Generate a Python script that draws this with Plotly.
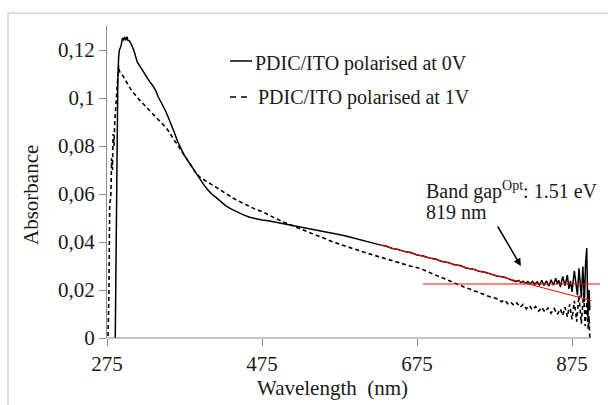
import plotly.graph_objects as go

# Absorbance spectrum of PDIC/ITO polarised at 0 V
wl_0v = [285.5, 287, 288, 289, 290, 291, 293, 294, 295, 296, 297, 298, 299, 300, 301, 302,
         304, 307, 310, 314, 318, 321, 326, 330, 334, 338, 341, 346, 350, 354, 358, 362,
         366, 370, 374, 378, 382, 386, 390, 395, 400, 405, 410, 416, 422, 428, 435, 443,
         451, 459, 467, 475, 483, 491, 499, 507, 515, 523, 531, 539, 547, 555, 563, 571,
         579, 587, 595, 603, 611, 619, 627, 635, 643, 651, 659, 667, 675, 683, 691, 699,
         707, 715, 723, 731, 739, 747, 755, 763, 771, 779, 787, 795,
         800, 803, 806, 809, 812, 815, 818, 821, 824, 827, 830, 833, 836, 839, 842, 845,
         848, 851, 854, 856, 858, 860, 863, 866, 869, 871, 873, 875, 878, 880, 882, 884,
         887, 889, 891, 892.5, 894, 895.5, 897, 898]
abs_0v = [-0.005, 0.040, 0.090, 0.108, 0.1170, 0.1200, 0.1215, 0.1235, 0.1250, 0.1240,
          0.1245, 0.1255, 0.1240, 0.1250, 0.1255, 0.1240,
          0.1238, 0.1220, 0.1195, 0.1150, 0.1130, 0.1110, 0.1088, 0.1068, 0.1052, 0.1030,
          0.1005, 0.0975, 0.0950, 0.0920, 0.0890, 0.0855,
          0.0820, 0.0790, 0.0765, 0.0745, 0.0725, 0.0705, 0.0685, 0.0660, 0.0638, 0.0618,
          0.0600, 0.0585, 0.0568, 0.0552, 0.0538, 0.0525,
          0.0513, 0.0503, 0.0497, 0.0492, 0.0489, 0.0484, 0.0478, 0.0474, 0.0470, 0.0463,
          0.0459, 0.0455, 0.0450, 0.0446, 0.0440, 0.0435,
          0.0428, 0.0422, 0.0415, 0.0408, 0.0400, 0.0394, 0.0388, 0.0383, 0.0373, 0.0369,
          0.0360, 0.0356, 0.0346, 0.0342, 0.0333, 0.0329,
          0.0319, 0.0315, 0.0305, 0.0302, 0.0291, 0.0288, 0.0278, 0.0274, 0.0267, 0.0257,
          0.0254, 0.0244,
          0.0241, 0.0235, 0.0240, 0.0231, 0.0237, 0.0228, 0.0235, 0.0225, 0.0236, 0.0223,
          0.0234, 0.0220, 0.0240, 0.0219, 0.0238, 0.0216,
          0.0243, 0.0220, 0.0249, 0.0226, 0.0240, 0.0212, 0.0256, 0.0218, 0.0262, 0.0205,
          0.0238, 0.0192, 0.0280, 0.0224, 0.0178, 0.0290,
          0.0170, 0.0298, 0.0150, 0.0310, 0.0375, 0.0085, 0.0200, 0.0115]

# Absorbance spectrum of PDIC/ITO polarised at 1 V
wl_1v = [276, 277.5, 278.5, 280, 281, 282, 283, 284, 285, 286.5, 288, 289, 290, 291, 293,
         295, 300, 305, 309, 313, 318, 322, 327, 331, 335, 339, 344, 348, 352, 356, 360,
         365, 369, 374, 378, 382, 386, 390, 395, 400, 406, 412, 418, 425, 431, 438, 445,
         452, 459, 466, 474, 481, 488, 495, 502, 510, 517, 524, 532, 539, 546, 553, 560,
         567, 574, 581, 588, 596, 603, 610, 617, 624, 631, 638, 645, 653, 660, 666, 673,
         679, 686, 692, 699, 705, 712, 718, 724, 731, 737, 744, 750, 756, 763, 769, 775,
         780, 784, 788, 792, 796, 800, 804, 808, 812, 816, 820, 824, 828, 832, 836, 840,
         844, 848, 852, 856, 860, 863, 866, 869, 872, 875, 878, 881, 884, 887, 890, 892,
         894, 896, 897, 898]
abs_1v = [-0.005, 0.020, 0.055, 0.060, 0.075, 0.070, 0.085, 0.080, 0.090, 0.098, 0.106,
          0.1130, 0.1135, 0.1110, 0.1105,
          0.1095, 0.1065, 0.1040, 0.1022, 0.1005, 0.0988, 0.0975, 0.0958, 0.0945, 0.0928,
          0.0915, 0.0898, 0.0888, 0.0873, 0.0855, 0.0832,
          0.0810, 0.0790, 0.0765, 0.0745, 0.0722, 0.0702, 0.0686, 0.0670, 0.0660, 0.0650,
          0.0638, 0.0625, 0.0610, 0.0597, 0.0582, 0.0570,
          0.0558, 0.0546, 0.0537, 0.0528, 0.0518, 0.0507, 0.0495, 0.0484, 0.0474, 0.0466,
          0.0457, 0.0447, 0.0438, 0.0429, 0.0419, 0.0409,
          0.0400, 0.0392, 0.0383, 0.0375, 0.0368, 0.0361, 0.0354, 0.0347, 0.0340, 0.0333,
          0.0327, 0.0320, 0.0313, 0.0307, 0.0300, 0.0295,
          0.0290, 0.0280, 0.0271, 0.0262, 0.0254, 0.0245, 0.0236, 0.0228, 0.0220, 0.0210,
          0.0203, 0.0195, 0.0187, 0.0180, 0.0172, 0.0167,
          0.0162, 0.0151, 0.0158, 0.0143, 0.0150, 0.0136, 0.0146, 0.0128, 0.0140, 0.0122,
          0.0135, 0.0117, 0.0131, 0.0112, 0.0128, 0.0108,
          0.0125, 0.0103, 0.0123, 0.0098, 0.0121, 0.0094, 0.0128, 0.0088, 0.0140, 0.0078,
          0.0155, 0.0068, 0.0178, 0.0060, 0.0190, 0.0050,
          0.0150, 0.0035, 0.0090, 0.0000]

# Optical band-gap construction: tangent to the absorption edge and baseline
tangent_wl = [627, 900]
tangent_abs = [0.0388, 0.0156]
baseline_wl = [683, 911]
baseline_abs = [0.0225, 0.0225]

series_names = ["PDIC/ITO polarised at 0V", "PDIC/ITO polarised at 1V"]
x_ticks = [275, 475, 675, 875]
y_ticks = [0, 0.02, 0.04, 0.06, 0.08, 0.10, 0.12]
y_tick_text = ["0", "0,02", "0,04", "0,06", "0,08", "0,1", "0,12"]

W, H = 608, 405
ML, MR, MT, MB = 107, 7, 26, 67
PW, PH = W - ML - MR, H - MT - MB
FONT = "Liberation Serif"
AXIS_GREY = "#8c8c8c"
TEXT = "#1a1a1a"


def fx(px):
    return (px - ML) / PW


def fy(py):
    return (H - MB - py) / PH


fig = go.Figure()
fig.add_trace(go.Scatter(x=wl_0v, y=abs_0v, mode="lines", name=series_names[0],
                         line=dict(color="black", width=1.5)))
fig.add_trace(go.Scatter(x=wl_1v, y=abs_1v, mode="lines", name=series_names[1],
                         line=dict(color="black", width=1.6, dash="4px,3px")))
fig.add_trace(go.Scatter(x=tangent_wl, y=tangent_abs, mode="lines", showlegend=False,
                         line=dict(color="#ff0000", width=1)))
fig.add_trace(go.Scatter(x=baseline_wl, y=baseline_abs, mode="lines", showlegend=False,
                         line=dict(color="#ff0000", width=1)))

shapes = [
    # chart frame
    dict(type="rect", xref="paper", yref="paper", x0=fx(8), x1=fx(660), y0=fy(460), y1=fy(13),
         line=dict(color="#c0c0c0", width=1), layer="below"),
    # horizontal axis line
    dict(type="line", xref="paper", yref="paper", x0=fx(107), x1=fx(591), y0=0, y1=0,
         line=dict(color=AXIS_GREY, width=1)),
    # legend samples
    dict(type="line", xref="paper", yref="paper", x0=fx(230), x1=fx(252), y0=fy(61), y1=fy(61),
         line=dict(color="black", width=1.5)),
    dict(type="line", xref="paper", yref="paper", x0=fx(230), x1=fx(250), y0=fy(97), y1=fy(97),
         line=dict(color="black", width=1.5, dash="6px,5px")),
]

tfont = dict(family=FONT, size=20, color=TEXT)
afont = dict(family=FONT, size=21, color=TEXT)
annotations = [
    dict(text="Absorbance", textangle=-90, xref="paper", yref="paper", x=fx(31), y=fy(195),
         xanchor="center", yanchor="middle", showarrow=False, font=afont),
    dict(text="Wavelength\u00a0 (nm)", xref="paper", yref="paper", x=fx(332), y=fy(388),
         xanchor="center", yanchor="middle", showarrow=False, font=afont),
    dict(text=series_names[0], xref="paper", yref="paper", x=fx(253), y=fy(63),
         xanchor="left", yanchor="middle", showarrow=False, font=tfont),
    dict(text=series_names[1], xref="paper", yref="paper", x=fx(256), y=fy(98),
         xanchor="left", yanchor="middle", showarrow=False, font=tfont),
    dict(text="Band gap<sup>Opt</sup>: 1.51 eV", xref="paper", yref="paper", x=fx(424), y=fy(190),
         xanchor="left", yanchor="middle", showarrow=False, font=tfont),
    dict(text="819 nm", xref="paper", yref="paper", x=fx(424), y=fy(212),
         xanchor="left", yanchor="middle", showarrow=False, font=tfont),
    dict(text="", x=809, y=0.030, xref="x", yref="y", ax=-24, ay=-41, showarrow=True,
         arrowhead=2, arrowsize=1, arrowwidth=1.5, arrowcolor="black"),
]

fig.update_layout(
    width=W, height=H,
    margin=dict(l=ML, r=MR, t=MT, b=MB),
    paper_bgcolor="white", plot_bgcolor="white",
    showlegend=False,
    font=dict(family=FONT, color=TEXT),
    shapes=shapes, annotations=annotations,
    xaxis=dict(range=[275, 275 + PW * 200 / 155], tickvals=x_ticks,
               ticks="outside", ticklen=7, tickcolor=AXIS_GREY, tickwidth=1,
               showline=False, showgrid=False, zeroline=False,
               tickfont=afont),
    yaxis=dict(range=[0, 0.13], tickvals=y_ticks, ticktext=y_tick_text,
               ticks="outside", ticklen=7, tickcolor=AXIS_GREY, tickwidth=1,
               showline=True, linecolor=AXIS_GREY, linewidth=1,
               showgrid=False, zeroline=False,
               tickfont=afont),
)

fig.write_html("out.html")
